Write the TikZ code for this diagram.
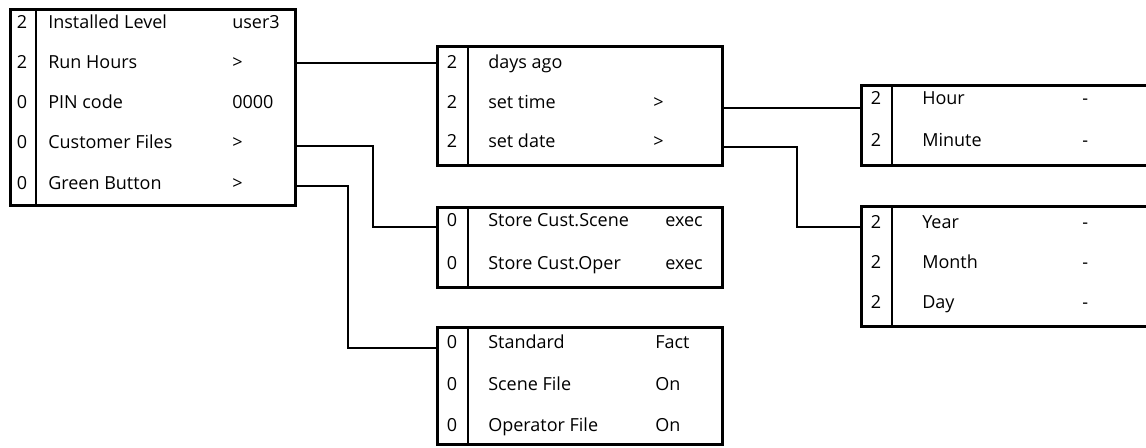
\documentclass[tikz,border=0pt]{standalone}
\usepackage{fontspec}
\setmainfont{Open Sans}
\begin{document}
\begin{tikzpicture}[x=0.75pt,y=-0.75pt,
  menubox/.style={draw,line width=2.25pt,rectangle,inner sep=0pt,outer sep=0pt,anchor=north west},
  conn/.style={line width=1.5pt},
  divider/.style={line width=1.6pt},
  txt/.style={anchor=base west,inner sep=0pt,font=\fontsize{13.5}{15}\selectfont},
  num/.style={anchor=base,inner sep=0pt,font=\fontsize{13.5}{15}\selectfont}]
\useasboundingbox (0,0) rectangle (1146,447);
\clip (0,0) rectangle (1146,447);
% boxes
\node[menubox,minimum width={285*0.75pt},minimum height={196*0.75pt}] (b1) at (10,9) {};
\node[menubox,minimum width={285*0.75pt},minimum height={119*0.75pt}] (b2) at (437,46) {};
\node[menubox,minimum width={285*0.75pt},minimum height={80*0.75pt}] (b3) at (437,207) {};
\node[menubox,minimum width={285*0.75pt},minimum height={117*0.75pt}] (b4) at (437,327) {};
\node[menubox,minimum width={300*0.75pt},minimum height={80*0.75pt}] (b5) at (861,85) {};
\node[menubox,minimum width={300*0.75pt},minimum height={120*0.75pt}] (b6) at (861,206) {};
% dividers
\draw[divider] (b1.north -| 36,0) -- (b1.south -| 36,0);
\draw[divider] (b2.north -| 468,0) -- (b2.south -| 468,0);
\draw[divider] (b3.north -| 468,0) -- (b3.south -| 468,0);
\draw[divider] (b4.north -| 468,0) -- (b4.south -| 468,0);
\draw[divider] (b5.north -| 892,0) -- (b5.south -| 892,0);
\draw[divider] (b6.north -| 892,0) -- (b6.south -| 892,0);
% box 1
\node[num] (a1n) at (22,28) {2}; \node[txt] (a1l) at (48,28) {Installed Level}; \node[txt] (a1v) at (232,28) {user3};
\node[num] (a2n) at (22,68) {2}; \node[txt] (a2l) at (48,68) {Run Hours}; \node[txt] (a2v) at (232,68) {>};
\node[num] (a3n) at (22,108) {0}; \node[txt] (a3l) at (48,108) {PIN code}; \node[txt] (a3v) at (232,108) {0000};
\node[num] (a4n) at (22,148) {0}; \node[txt] (a4l) at (48,148) {Customer Files}; \node[txt] (a4v) at (232,148) {>};
\node[num] (a5n) at (22,189) {0}; \node[txt] (a5l) at (48,189) {Green Button}; \node[txt] (a5v) at (232,189) {>};
% box 2
\node[num] (c1n) at (452,68) {2}; \node[txt] (c1l) at (488,68) {days ago};
\node[num] (c2n) at (452,108) {2}; \node[txt] (c2l) at (488,108) {set time}; \node[txt] (c2v) at (653,108) {>};
\node[num] (c3n) at (452,147) {2}; \node[txt] (c3l) at (488,147) {set date}; \node[txt] (c3v) at (653,147) {>};
% box 3
\node[num] (d1n) at (452,226) {0}; \node[txt] (d1l) at (488,226) {Store Cust.Scene}; \node[txt] (d1v) at (665,226) {exec};
\node[num] (d2n) at (452,269) {0}; \node[txt] (d2l) at (488,269) {Store Cust.Oper}; \node[txt] (d2v) at (665,269) {exec};
% box 4
\node[num] (e1n) at (452,348) {0}; \node[txt] (e1l) at (488,348) {Standard}; \node[txt] (e1v) at (655,348) {Fact};
\node[num] (e2n) at (452,390) {0}; \node[txt] (e2l) at (488,390) {Scene File}; \node[txt] (e2v) at (655,390) {On};
\node[num] (e3n) at (452,431) {0}; \node[txt] (e3l) at (488,431) {Operator File}; \node[txt] (e3v) at (655,431) {On};
% box 5
\node[num] (f1n) at (876,104) {2}; \node[txt] (f1l) at (922,104) {Hour}; \node[txt] (f1v) at (1082,104) {-};
\node[num] (f2n) at (876,146) {2}; \node[txt] (f2l) at (922,146) {Minute}; \node[txt] (f2v) at (1082,146) {-};
% box 6
\node[num] (g1n) at (876,228) {2}; \node[txt] (g1l) at (922,228) {Year}; \node[txt] (g1v) at (1082,228) {-};
\node[num] (g2n) at (876,268) {2}; \node[txt] (g2l) at (922,268) {Month}; \node[txt] (g2v) at (1082,268) {-};
\node[num] (g3n) at (876,308) {2}; \node[txt] (g3l) at (922,308) {Day}; \node[txt] (g3v) at (1082,308) {-};
% connectors
\draw[conn] (b1.east |- 0,63) -- (b2.west |- 0,63);
\draw[conn] (b1.east |- 0,146) -| (373,227) -- (b3.west |- 0,227);
\draw[conn] (b1.east |- 0,186) -| (348,348) -- (b4.west |- 0,348);
\draw[conn] (b2.east |- 0,108) -- (b5.west |- 0,108);
\draw[conn] (b2.east |- 0,147) -| (797,227) -- (b6.west |- 0,227);
\end{tikzpicture}
\end{document}
